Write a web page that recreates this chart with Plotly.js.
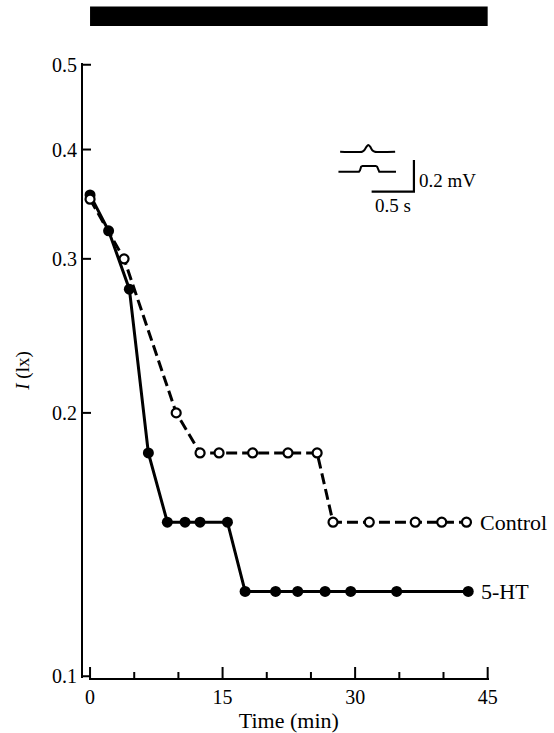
<!DOCTYPE html>
<html>
<head>
<meta charset="utf-8">
<script src="https://cdn.plot.ly/plotly-3.0.1.min.js"></script>
<style>
  html, body { margin: 0; padding: 0; background: #fff; }
  #chart { width: 554px; height: 733px; }
</style>
</head>
<body>
<div id="chart"></div>
<script>
// ---- Data ----
// Time (min) and threshold intensity I (lx)
const timeCtrl = [0, 3.85, 9.75, 12.45, 14.6, 18.4, 22.4, 25.7, 27.5, 31.6, 36.8, 39.8, 42.6];
const valCtrl  = [0.351, 0.300, 0.200, 0.180, 0.180, 0.180, 0.180, 0.180, 0.150, 0.150, 0.150, 0.150, 0.150];

const time5HT = [0, 2.1, 4.45, 6.6, 8.75, 10.75, 12.45, 15.55, 17.55, 21.0, 23.5, 26.6, 29.5, 34.7, 42.8];
const val5HT  = [0.355, 0.323, 0.277, 0.180, 0.150, 0.150, 0.150, 0.150, 0.125, 0.125, 0.125, 0.125, 0.125, 0.125, 0.125];

const seriesNames = ["Control", "5-HT"];

// Light stimulus period (black bar), min
const lightOn = [0, 45];

// Axis ticks
const xTickVals  = [0, 15, 30, 45];
const xMinorVals = [5, 10, 20, 25, 35, 40];
const yTickVals  = [0.1, 0.2, 0.3, 0.4, 0.5];
const yTickText  = ["0.1", "0.2", "0.3", "0.4", "0.5"];

// Inset: example recordings (time in s, potential in mV)
const upperT = [0.02, 0.28, 0.305, 0.33, 0.352, 0.375, 0.40, 0.43, 0.67];
const upperV = [0.253, 0.253, 0.262, 0.283, 0.296, 0.285, 0.262, 0.253, 0.253];
const lowerT = [0, 0.243, 0.255, 0.268, 0.285, 0.44, 0.457, 0.47, 0.482, 0.68];
const lowerV = [0.127, 0.127, 0.135, 0.158, 0.163, 0.163, 0.158, 0.135, 0.127, 0.127];
// Scale bar: 0.5 s horizontal, 0.2 mV vertical
const scaleT = [0.392, 0.892, 0.892];
const scaleV = [0, 0, 0.2];

// ---- Plot ----
const FONT = "Liberation Serif, Times New Roman, serif";
const xPad = 0.15, yPad = 0.002;
const yRange = [Math.log10(yTickVals[0]) - yPad, Math.log10(yTickVals[yTickVals.length - 1]) + yPad];
const yToPaper = v => (Math.log10(v) - yRange[0]) / (yRange[1] - yRange[0]);

const traces = [
  {
    x: time5HT, y: val5HT, name: seriesNames[1], type: "scatter", mode: "lines+markers",
    line: { color: "black", width: 3 },
    marker: { symbol: "circle", size: 11, color: "black" },
    cliponaxis: false, showlegend: false, hoverinfo: "x+y"
  },
  {
    x: timeCtrl, y: valCtrl, name: seriesNames[0], type: "scatter", mode: "lines+markers",
    line: { color: "black", width: 3, dash: "11px,5px" },
    marker: { symbol: "circle", size: 9, color: "white", line: { color: "black", width: 2.2 } },
    cliponaxis: false, showlegend: false, hoverinfo: "x+y"
  },
  {
    x: upperT, y: upperV, xaxis: "x2", yaxis: "y2", type: "scatter", mode: "lines",
    line: { color: "black", width: 2, shape: "spline", smoothing: 0.6 },
    showlegend: false, hoverinfo: "skip"
  },
  {
    x: lowerT, y: lowerV, xaxis: "x2", yaxis: "y2", type: "scatter", mode: "lines",
    line: { color: "black", width: 2 },
    showlegend: false, hoverinfo: "skip"
  },
  {
    x: scaleT, y: scaleV, xaxis: "x2", yaxis: "y2", type: "scatter", mode: "lines",
    line: { color: "black", width: 2.2 },
    showlegend: false, hoverinfo: "skip"
  }
];

// Inside tick marks, built from the tick arrays (x ticks point up, y ticks point right)
const tickLine = { color: "black", width: 2 };
const xTickShapes = xTickVals.map(v => ({
  type: "line", xref: "x", yref: "paper", ysizemode: "pixel", yanchor: 0,
  x0: v, x1: v, y0: 0, y1: 11, line: tickLine, layer: "above"
}));
const xMinorShapes = xMinorVals.map(v => ({
  type: "line", xref: "x", yref: "paper", ysizemode: "pixel", yanchor: 0,
  x0: v, x1: v, y0: 0, y1: 6, line: tickLine, layer: "above"
}));
const yTickShapes = yTickVals.map(v => ({
  type: "line", xref: "paper", yref: "paper", xsizemode: "pixel", xanchor: 0,
  x0: 0, x1: 9, y0: yToPaper(v), y1: yToPaper(v), line: tickLine, layer: "above"
}));

const lastC = timeCtrl.length - 1;
const lastH = time5HT.length - 1;

const layout = {
  width: 554, height: 733,
  margin: { l: 82, r: 65, t: 63, b: 55, pad: 0 },
  paper_bgcolor: "white", plot_bgcolor: "rgba(0,0,0,0)",
  font: { family: FONT, color: "black", size: 20 },
  xaxis: {
    domain: [0.0165, 1], range: [lightOn[0] - xPad, lightOn[1] + xPad],
    showline: true, linecolor: "black", linewidth: 2,
    ticks: "", tickmode: "array", tickvals: xTickVals,
    showgrid: false, zeroline: false,
    tickfont: { family: FONT, size: 20, color: "black" },
    title: { text: "Time (min)", font: { family: FONT, size: 22, color: "black" }, standoff: 7 },
    automargin: false, fixedrange: true
  },
  yaxis: {
    type: "log", range: yRange,
    anchor: "free", position: 0,
    showline: true, linecolor: "black", linewidth: 2,
    ticks: "", tickmode: "array", tickvals: yTickVals, ticktext: yTickText,
    showgrid: false, zeroline: false,
    tickfont: { family: FONT, size: 20, color: "black" },
    title: { text: "<i>I</i> (lx)", font: { family: FONT, size: 19, color: "black" }, standoff: 16 },
    automargin: false, fixedrange: true
  },
  xaxis2: {
    domain: [0.6093, 0.8305], range: [-0.1, 0.964], anchor: "y2",
    visible: false, fixedrange: true
  },
  yaxis2: {
    domain: [0.7772, 0.8748], range: [-0.0525, 0.327], anchor: "x2",
    visible: false, fixedrange: true
  },
  shapes: [
    {
      type: "rect", xref: "x", yref: "paper",
      x0: lightOn[0], x1: lightOn[1], y0: 1.0602, y1: 1.0919,
      fillcolor: "black", line: { width: 0 }, layer: "above"
    }
  ].concat(xTickShapes, xMinorShapes, yTickShapes),
  annotations: [
    {
      x: timeCtrl[lastC], y: Math.log10(valCtrl[lastC]), xref: "x", yref: "y",
      text: seriesNames[0], showarrow: false, xanchor: "left", yanchor: "middle", xshift: 12,
      font: { family: FONT, size: 22, color: "black" }
    },
    {
      x: time5HT[lastH], y: Math.log10(val5HT[lastH]), xref: "x", yref: "y",
      text: seriesNames[1], showarrow: false, xanchor: "left", yanchor: "middle", xshift: 11,
      font: { family: FONT, size: 22, color: "black" }
    },
    {
      x: scaleT[2], y: scaleV[2] * 0.37, xref: "x2", yref: "y2",
      text: "0.2 mV", showarrow: false, xanchor: "left", yanchor: "middle", xshift: 3,
      font: { family: FONT, size: 19, color: "black" }
    },
    {
      x: (scaleT[0] + scaleT[1]) / 2, y: scaleV[0], xref: "x2", yref: "y2",
      text: "0.5 s", showarrow: false, xanchor: "center", yanchor: "top", yshift: -1,
      font: { family: FONT, size: 19, color: "black" }
    }
  ]
};

Plotly.newPlot("chart", traces, layout, { displayModeBar: false, staticPlot: true });
</script>
</body>
</html>
